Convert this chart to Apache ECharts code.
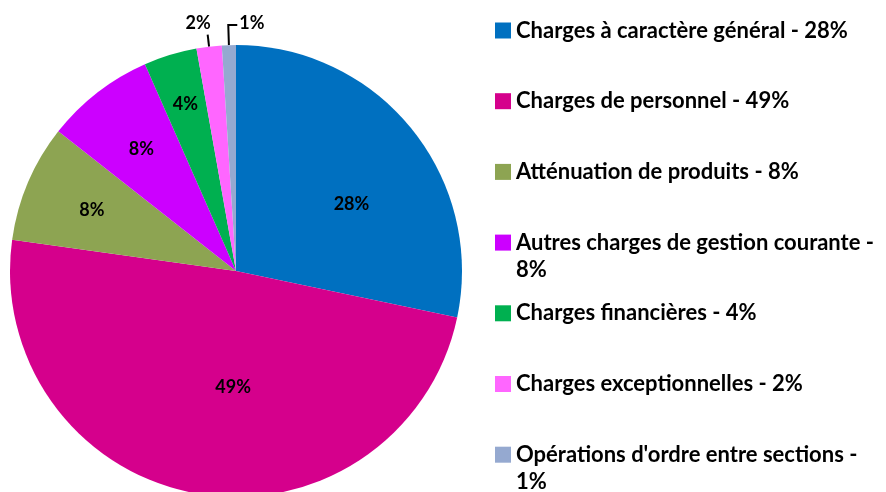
<!DOCTYPE html>
<html>
<head>
<meta charset="utf-8">
<script src="https://cdn.jsdelivr.net/npm/echarts@6/dist/echarts.min.js"></script>
<style>
  html, body { margin: 0; padding: 0; background: #fff; }
  #chart { width: 886px; height: 492px; }
</style>
</head>
<body>
<div id="chart"></div>
<script>
const categories = [
    'Charges à caractère général',
    'Charges de personnel',
    'Atténuation de produits',
    'Autres charges de gestion courante',
    'Charges financières',
    'Charges exceptionnelles',
    "Opérations d'ordre entre sections"
];
const values = [28.3, 48.9, 8.4, 7.8, 3.8, 1.8, 1.0];
const colors = ['#0070C0', '#D5008C', '#8DA452', '#CC00FF', '#00B050', '#FF66FF', '#95A9D0'];

// inside labels: push out from the half radius, and turn (degrees)
const labelPush = [1.15, 1.0, 1.35, 1.33, 1.5];
const labelTurn = [9, -8.5, 0, 0, 0];
// legend entries that wrap on two lines
const legendWraps = [3, 6];

const total = values.reduce((a, b) => a + b, 0);
const pct = values.map(v => Math.round(v / total * 100));
const cx = 236, cy = 271;
const lh = 27;

const legendFont = {
    fontFamily: 'Lato',
    fontWeight: 'bold',
    fontSize: 22,
    color: '#000',
    lineHeight: lh
};

const option = {
    animation: false,
    color: colors,
    legend: categories.map((name, i) => {
        const wraps = legendWraps.includes(i);
        const c = 30.5 + 70.7 * i;
        return {
            left: 495,
            top: wraps ? c - lh * 1.5 : c - lh / 2,
            padding: 0,
            orient: 'vertical',
            icon: 'rect',
            itemWidth: 16,
            itemHeight: 16,
            selectedMode: false,
            textStyle: legendFont,
            // a blank first line keeps the icon level with the first text line
            formatter: n => wraps
                ? '\n' + n + ' -\n' + pct[i] + '%'
                : n + ' - ' + pct[i] + '%',
            data: [name]
        };
    }),
    series: [{
        type: 'pie',
        center: [cx, cy],
        radius: 226,
        startAngle: 90,
        clockwise: true,
        avoidLabelOverlap: false,
        label: {
            show: true,
            position: 'inside',
            formatter: p => pct[p.dataIndex] + '%',
            color: '#000',
            fontFamily: 'Lato',
            fontWeight: 'bold',
            fontSize: 18
        },
        labelLine: { show: false },
        emphasis: { disabled: true },
        labelLayout: function (p) {
            const i = p.dataIndex;
            const r = p.labelRect;
            if (i < labelPush.length) {
                const x0 = r.x + r.width / 2 - cx, y0 = r.y + r.height / 2 - cy;
                const rad = Math.hypot(x0, y0) * labelPush[i];
                const ang = Math.atan2(y0, x0) + labelTurn[i] * Math.PI / 180;
                return { dx: rad * Math.cos(ang) - x0, dy: rad * Math.sin(ang) - y0 };
            }
            const pts = p.labelLinePoints;
            if (!pts) return {};
            if (i === 5) {
                return {
                    x: pts[1][0] + 3, y: pts[1][1] - 3,
                    align: 'right', verticalAlign: 'bottom',
                    labelLinePoints: [pts[0], pts[1], pts[1]]
                };
            }
            return {
                x: pts[1][0] + 11, y: pts[1][1] - 2,
                align: 'left', verticalAlign: 'middle',
                labelLinePoints: [pts[0], pts[1], [pts[1][0] + 9, pts[1][1]]]
            };
        },
        data: categories.map((name, i) => {
            const d = { name: name, value: values[i] };
            if (i >= 5) {
                d.label = { position: 'outside' };
                d.labelLine = {
                    show: true,
                    length: i === 5 ? 12 : 20,
                    length2: 0,
                    lineStyle: { color: '#000', width: 2 }
                };
            }
            return d;
        })
    }]
};

const myChart = echarts.init(document.getElementById('chart'));
myChart.setOption(option);
window.addEventListener('resize', () => myChart.resize());
</script>
</body>
</html>
